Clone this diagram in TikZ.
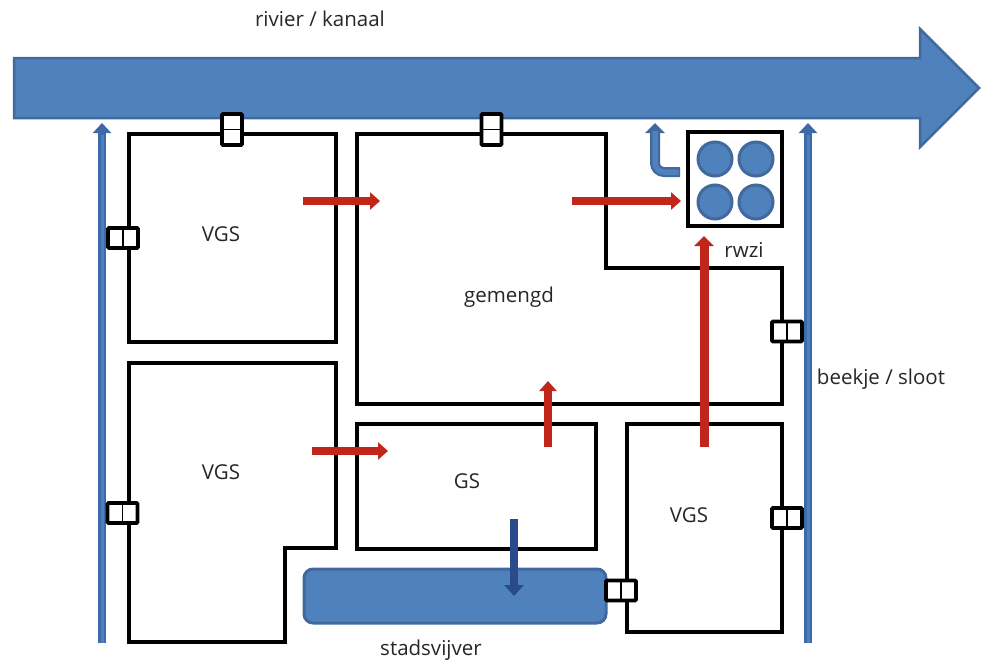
\documentclass[tikz,border=0pt]{standalone}
\usepackage{fontspec}
\setmainfont{Open Sans}
\usetikzlibrary{arrows.meta,calc}
\definecolor{rivblue}{HTML}{4F81BD}
\definecolor{rivedge}{HTML}{41699E}
\definecolor{ditchblue}{HTML}{3E6AA8}
\definecolor{redarrow}{HTML}{C1261A}
\definecolor{navyarrow}{HTML}{2B4A8B}
\tikzset{
  x=1pt,y=-1pt,
  building/.style={draw=black,line width=4pt,fill=white,line join=miter},
  valvebox/.style={draw=black,line width=3.6pt,fill=white,rounded corners=1pt},
  divider/.style={draw=black,line width=1.8pt},
  label/.style={font=\fontsize{20.5pt}{22pt}\selectfont,text=black!85,inner sep=0pt},
  redflow/.style={draw=redarrow,line width=7.5pt,-{Triangle[width=17pt,length=10pt]}},
  navyflow/.style={draw=navyarrow,line width=8pt,-{Triangle[width=19pt,length=11pt]}},
  ditchouter/.style={draw=ditchblue,line width=8pt,-{Triangle[width=18pt,length=10pt]}},
  basin/.style={draw=rivedge,line width=3pt,fill=rivblue},
}
\newcommand{\valveH}[3]{% name, centre x, centre y: box split by a vertical line
  \node[valvebox,minimum width=30pt,minimum height=20pt,inner sep=0pt] (#1) at (#2,#3) {};
  \draw[divider] (#1.north) -- (#1.south);
}
\newcommand{\valveV}[3]{% box split by a horizontal line
  \node[valvebox,minimum width=20pt,minimum height=31pt,inner sep=0pt] (#1) at (#2,#3) {};
  \draw[divider] (#1.west) -- (#1.east);
}
\begin{document}
\begin{tikzpicture}
\useasboundingbox (0,0) rectangle (981,664);
% river
\fill[rivblue,draw=rivedge,line width=2.5pt,line join=miter] (14,58) -- (920,58) -- (920,29) -- (979,88) -- (920,147) -- (920,118) -- (14,118) -- cycle;
% ditches
\coordinate (dl0) at (102,643); \coordinate (dl1) at (102,123);
\coordinate (dr0) at (808,643); \coordinate (dr1) at (808,123);
\draw[ditchouter] (dl0) -- (dl1);
\draw[ditchouter] (dr0) -- (dr1);
\draw[draw=rivblue,line width=3pt] (102,643) -- (102,135);
\draw[draw=rivblue,line width=3pt] (808,643) -- (808,135);
% buildings
\draw[building] (129,134) rectangle (336,342);
\draw[building] (129,363) -- (336,363) -- (336,548) -- (285,548) -- (285,642) -- (129,642) -- cycle;
\draw[building] (357,134) -- (606,134) -- (606,268) -- (782,268) -- (782,404) -- (357,404) -- cycle;
\draw[building] (357,424) rectangle (596,549);
\draw[building] (627,424) rectangle (782,632);
% treatment plant
\node[draw=black,line width=4.4pt,fill=white,minimum size=94pt,inner sep=0pt] (rwzi) at (735,179) {};
\foreach \n/\cx/\cy in {a/715/159,b/756/159,c/715/202,d/756/202}
  \node[circle,basin,minimum size=34pt,inner sep=0pt] (t\n) at (\cx,\cy) {};
% pond
\node[basin,rounded corners=9pt,minimum width=302pt,minimum height=54pt,inner sep=0pt] (pond) at (455,596) {};
% valves
\valveV{v1}{232}{129.5}
\valveV{v2}{491.5}{129.5}
\valveH{v3}{123}{238}
\valveH{v4}{122.5}{513}
\valveH{v5}{787}{331.5}
\valveH{v6}{787}{518}
\valveH{v7}{621}{590.5}
% flows
\coordinate (r1a) at (303,201); \coordinate (r1b) at (380,201);
\coordinate (r2a) at (572,201); \coordinate (r2b) at (681,201);
\coordinate (r3a) at (312,451); \coordinate (r3b) at (388,451);
\coordinate (r4a) at (548,447); \coordinate (r4b) at (548,381);
\coordinate (r5a) at (704,447); \coordinate (r5b) at (704,236);
\coordinate (n1a) at (514,519); \coordinate (n1b) at (514,596);
\draw[redflow] (r1a) -- (r1b);
\draw[redflow] (r2a) -- (r2b);
\draw[redflow] (r3a) -- (r3b);
\draw[redflow] (r4a) -- (r4b);
\draw[redflow,line width=9pt,-{Triangle[width=19pt,length=10pt]}] (r5a) -- (r5b);
\draw[navyflow] (n1a) -- (n1b);
% effluent
\coordinate (e0) at (680,172); \coordinate (e1) at (655,123);
\draw[draw=rivedge,line width=10pt,rounded corners=9pt,-{Triangle[width=19pt,length=10pt]}] (e0) -- (655,172) -- (e1);
\draw[draw=rivblue,line width=5.5pt,rounded corners=9pt] (678.5,172) -- (655,172) -- (655,131);
% labels
\node[label] (lriv) at (320,19) {rivier / kanaal};
\node[label] (lv1) at (221,234) {VGS};
\node[label] (lv2) at (221,472) {VGS};
\node[label] (lv3) at (689,515) {VGS};
\node[label] (lgs) at (467,481) {GS};
\node[label] (lgem) at (509,297) {gemengd};
\node[label] (lrw) at (744,250) {rwzi};
\node[label] (lbk) at (881,379) {beekje / sloot};
\node[label] (lst) at (431,650) {stadsvijver};
\end{tikzpicture}
\end{document}
